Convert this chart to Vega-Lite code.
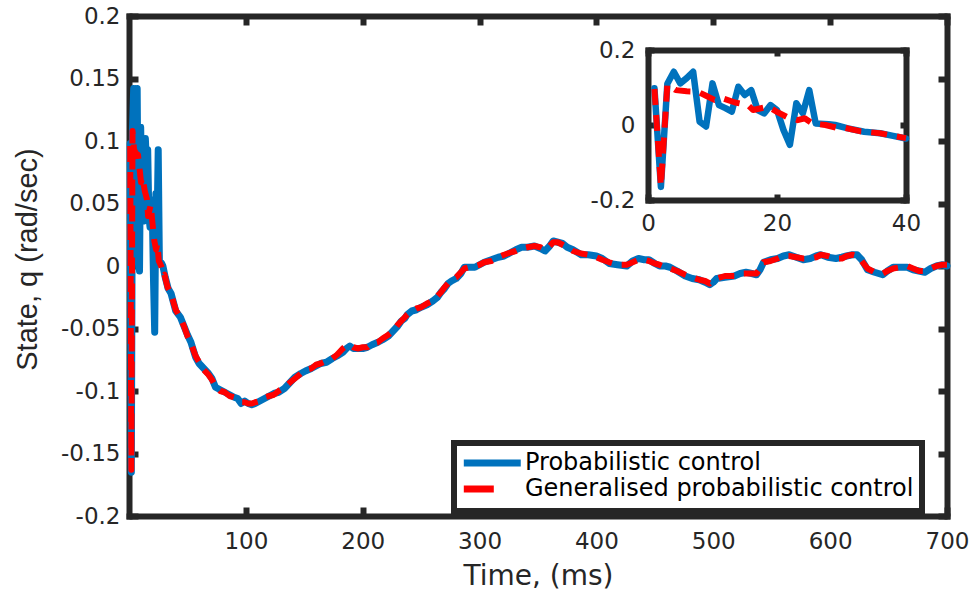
{
  "$schema": "https://vega.github.io/schema/vega-lite/v6.json",
  "width": 818,
  "height": 500,
  "autosize": "none",
  "padding": {"left": 129, "top": 16, "right": 30, "bottom": 74},
  "background": "white",
  "config": {
    "view": {"stroke": null},
    "font": "DejaVu Sans",
    "axis": {
      "grid": false,
      "domainColor": "#262626",
      "domainWidth": 6,
      "domainCap": "square",
      "tickColor": "#262626",
      "tickWidth": 6,
      "labelColor": "#262626",
      "titleColor": "#262626",
      "labelFont": "DejaVu Sans",
      "labelFontSize": 23,
      "titleFont": "DejaVu Sans",
      "titleFontWeight": "normal",
      "labelFlush": false,
      "labelOverlap": false,
      "zindex": 1
    },
    "legend": {
      "orient": "none",
      "legendX": 325,
      "legendY": 427,
      "title": null,
      "symbolType": "M-1.2,0H5.5",
      "symbolSize": 289,
      "symbolStrokeWidth": 7,
      "labelFont": "DejaVu Sans",
      "labelFontSize": 24,
      "labelColor": "#000000",
      "labelOffset": 39,
      "labelLimit": 0,
      "padding": 8,
      "rowPadding": -4,
      "strokeColor": "#262626",
      "fillColor": "white"
    }
  },
  "data": {"name": "d", "values": [
    {"s":"P","t":1,"q":0.098},{"s":"P","t":2,"q":-0.165},{"s":"P","t":3,"q":0.11},{"s":"P","t":4,"q":0.142},{"s":"P","t":5,"q":0.111},{"s":"P","t":6,"q":0.125},{"s":"P","t":7,"q":0.142},{"s":"P","t":8,"q":0.009},{"s":"P","t":9,"q":-0.004},{"s":"P","t":10,"q":0.111},{"s":"P","t":11,"q":0.053},{"s":"P","t":12,"q":0.045},{"s":"P","t":13,"q":0.036},{"s":"P","t":14,"q":0.102},{"s":"P","t":15,"q":0.08},{"s":"P","t":16,"q":0.093},{"s":"P","t":17,"q":0.04},{"s":"P","t":18,"q":0.031},{"s":"P","t":19,"q":0.053},{"s":"P","t":20,"q":0.04},{"s":"P","t":21,"q":-0.013},{"s":"P","t":22,"q":-0.053},{"s":"P","t":23,"q":0.058},{"s":"P","t":24,"q":0.031},{"s":"P","t":25,"q":0.093},{"s":"P","t":26,"q":0.004},{"s":"P","t":28,"q":0.002},{"s":"P","t":29,"q":0.0},{"s":"P","t":31,"q":-0.009},{"s":"P","t":33.5,"q":-0.018},{"s":"P","t":36,"q":-0.022},{"s":"P","t":38,"q":-0.029},{"s":"P","t":40,"q":-0.036},
    {"s":"P","t":44,"q":-0.041},{"s":"P","t":47,"q":-0.048},{"s":"P","t":50,"q":-0.055},{"s":"P","t":53,"q":-0.061},{"s":"P","t":57,"q":-0.073},{"s":"P","t":60,"q":-0.078},{"s":"P","t":64,"q":-0.082},{"s":"P","t":68,"q":-0.086},{"s":"P","t":71,"q":-0.09},{"s":"P","t":74,"q":-0.097},{"s":"P","t":78,"q":-0.099},{"s":"P","t":82,"q":-0.101},{"s":"P","t":86,"q":-0.103},{"s":"P","t":90,"q":-0.105},{"s":"P","t":93,"q":-0.106},{"s":"P","t":96,"q":-0.11},{"s":"P","t":99,"q":-0.108},{"s":"P","t":102,"q":-0.11},{"s":"P","t":105,"q":-0.111},{"s":"P","t":108,"q":-0.11},{"s":"P","t":112,"q":-0.108},{"s":"P","t":116,"q":-0.106},{"s":"P","t":120,"q":-0.104},{"s":"P","t":124,"q":-0.102},{"s":"P","t":128,"q":-0.101},{"s":"P","t":133,"q":-0.098},{"s":"P","t":138,"q":-0.093},{"s":"P","t":142,"q":-0.089},{"s":"P","t":147,"q":-0.086},{"s":"P","t":151,"q":-0.084},{"s":"P","t":156,"q":-0.082},{"s":"P","t":160,"q":-0.08},{"s":"P","t":164,"q":-0.078},{"s":"P","t":169,"q":-0.077},{"s":"P","t":174,"q":-0.074},{"s":"P","t":178,"q":-0.072},{"s":"P","t":183,"q":-0.069},{"s":"P","t":186,"q":-0.066},{"s":"P","t":189,"q":-0.064},{"s":"P","t":192,"q":-0.066},{"s":"P","t":196,"q":-0.066},{"s":"P","t":200,"q":-0.066},{"s":"P","t":204,"q":-0.065},{"s":"P","t":208,"q":-0.063},{"s":"P","t":213,"q":-0.061},{"s":"P","t":217,"q":-0.059},{"s":"P","t":222,"q":-0.056},{"s":"P","t":226,"q":-0.052},{"s":"P","t":230,"q":-0.048},{"s":"P","t":233,"q":-0.044},{"s":"P","t":236,"q":-0.042},{"s":"P","t":238,"q":-0.039},{"s":"P","t":242,"q":-0.036},{"s":"P","t":246,"q":-0.035},{"s":"P","t":250,"q":-0.033},{"s":"P","t":255,"q":-0.031},{"s":"P","t":260,"q":-0.028},{"s":"P","t":264,"q":-0.025},{"s":"P","t":267,"q":-0.021},{"s":"P","t":270,"q":-0.018},{"s":"P","t":273,"q":-0.014},{"s":"P","t":276,"q":-0.012},{"s":"P","t":280,"q":-0.01},{"s":"P","t":284,"q":-0.006},{"s":"P","t":287,"q":-0.001},{"s":"P","t":291,"q":-0.001},{"s":"P","t":296,"q":-0.001},{"s":"P","t":300,"q":0.001},{"s":"P","t":304,"q":0.003},{"s":"P","t":310,"q":0.005},{"s":"P","t":316,"q":0.007},{"s":"P","t":321,"q":0.008},{"s":"P","t":327,"q":0.011},{"s":"P","t":331,"q":0.013},{"s":"P","t":336,"q":0.015},{"s":"P","t":341,"q":0.015},{"s":"P","t":347,"q":0.016},{"s":"P","t":352,"q":0.014},{"s":"P","t":356,"q":0.012},{"s":"P","t":360,"q":0.016},{"s":"P","t":363,"q":0.02},{"s":"P","t":367,"q":0.019},{"s":"P","t":371,"q":0.018},{"s":"P","t":375,"q":0.015},{"s":"P","t":380,"q":0.013},{"s":"P","t":387,"q":0.009},{"s":"P","t":393,"q":0.009},{"s":"P","t":400,"q":0.008},{"s":"P","t":405,"q":0.006},{"s":"P","t":411,"q":0.002},{"s":"P","t":418,"q":0.001},{"s":"P","t":426,"q":0.0},{"s":"P","t":431,"q":0.004},{"s":"P","t":436,"q":0.006},{"s":"P","t":441,"q":0.005},{"s":"P","t":445,"q":0.005},{"s":"P","t":450,"q":0.002},{"s":"P","t":454,"q":0.0},{"s":"P","t":459,"q":0.0},{"s":"P","t":463,"q":-0.001},{"s":"P","t":469,"q":-0.004},{"s":"P","t":476,"q":-0.008},{"s":"P","t":482,"q":-0.01},{"s":"P","t":488,"q":-0.011},{"s":"P","t":493,"q":-0.013},{"s":"P","t":497,"q":-0.015},{"s":"P","t":500,"q":-0.013},{"s":"P","t":503,"q":-0.01},{"s":"P","t":510,"q":-0.009},{"s":"P","t":518,"q":-0.008},{"s":"P","t":523,"q":-0.006},{"s":"P","t":528,"q":-0.005},{"s":"P","t":533,"q":-0.006},{"s":"P","t":537,"q":-0.007},{"s":"P","t":540,"q":-0.003},{"s":"P","t":543,"q":0.003},{"s":"P","t":549,"q":0.005},{"s":"P","t":555,"q":0.006},{"s":"P","t":560,"q":0.008},{"s":"P","t":565,"q":0.009},{"s":"P","t":571,"q":0.007},{"s":"P","t":577,"q":0.005},{"s":"P","t":583,"q":0.006},{"s":"P","t":588,"q":0.008},{"s":"P","t":592,"q":0.009},{"s":"P","t":598,"q":0.007},{"s":"P","t":605,"q":0.006},{"s":"P","t":610,"q":0.007},{"s":"P","t":614,"q":0.008},{"s":"P","t":619,"q":0.009},{"s":"P","t":623,"q":0.009},{"s":"P","t":627,"q":0.005},{"s":"P","t":632,"q":-0.003},{"s":"P","t":638,"q":-0.005},{"s":"P","t":645,"q":-0.007},{"s":"P","t":649,"q":-0.004},{"s":"P","t":654,"q":-0.001},{"s":"P","t":660,"q":-0.001},{"s":"P","t":666,"q":-0.001},{"s":"P","t":671,"q":-0.003},{"s":"P","t":676,"q":-0.004},{"s":"P","t":681,"q":-0.005},{"s":"P","t":686,"q":-0.002},{"s":"P","t":691,"q":0.0},{"s":"P","t":696,"q":0.001},{"s":"P","t":700,"q":0.0},
    {"s":"G","t":1,"q":0.096},{"s":"G","t":2,"q":-0.163},{"s":"G","t":3,"q":0.108},{"s":"G","t":4.3,"q":0.093},{"s":"G","t":6,"q":0.09},{"s":"G","t":7.7,"q":0.089},{"s":"G","t":9,"q":0.078},{"s":"G","t":10.3,"q":0.067},{"s":"G","t":11.6,"q":0.071},{"s":"G","t":13.5,"q":0.06},{"s":"G","t":15.5,"q":0.053},{"s":"G","t":16.3,"q":0.04},{"s":"G","t":18.6,"q":0.049},{"s":"G","t":20,"q":0.035},{"s":"G","t":21.7,"q":0.02},{"s":"G","t":23.2,"q":0.013},{"s":"G","t":24.3,"q":0.018},{"s":"G","t":25.5,"q":0.004},{"s":"G","t":27.5,"q":0.0},{"s":"G","t":29.4,"q":-0.008},{"s":"G","t":30.4,"q":-0.007},{"s":"G","t":33,"q":-0.017},{"s":"G","t":36,"q":-0.022},{"s":"G","t":38,"q":-0.029},{"s":"G","t":40,"q":-0.035},
    {"s":"G","t":44,"q":-0.042},{"s":"G","t":47,"q":-0.048},{"s":"G","t":50,"q":-0.056},{"s":"G","t":53,"q":-0.062},{"s":"G","t":57,"q":-0.072},{"s":"G","t":60,"q":-0.077},{"s":"G","t":64,"q":-0.083},{"s":"G","t":68,"q":-0.087},{"s":"G","t":71,"q":-0.091},{"s":"G","t":74,"q":-0.096},{"s":"G","t":78,"q":-0.1},{"s":"G","t":82,"q":-0.101},{"s":"G","t":86,"q":-0.104},{"s":"G","t":90,"q":-0.105},{"s":"G","t":93,"q":-0.107},{"s":"G","t":96,"q":-0.109},{"s":"G","t":99,"q":-0.109},{"s":"G","t":102,"q":-0.11},{"s":"G","t":105,"q":-0.11},{"s":"G","t":108,"q":-0.109},{"s":"G","t":112,"q":-0.108},{"s":"G","t":116,"q":-0.105},{"s":"G","t":120,"q":-0.104},{"s":"G","t":124,"q":-0.103},{"s":"G","t":128,"q":-0.1},{"s":"G","t":133,"q":-0.097},{"s":"G","t":138,"q":-0.093},{"s":"G","t":142,"q":-0.09},{"s":"G","t":147,"q":-0.086},{"s":"G","t":151,"q":-0.083},{"s":"G","t":156,"q":-0.082},{"s":"G","t":160,"q":-0.079},{"s":"G","t":164,"q":-0.078},{"s":"G","t":169,"q":-0.076},{"s":"G","t":174,"q":-0.074},{"s":"G","t":178,"q":-0.071},{"s":"G","t":183,"q":-0.066},{"s":"G","t":186,"q":-0.064},{"s":"G","t":189,"q":-0.063},{"s":"G","t":192,"q":-0.065},{"s":"G","t":196,"q":-0.066},{"s":"G","t":200,"q":-0.065},{"s":"G","t":204,"q":-0.065},{"s":"G","t":208,"q":-0.062},{"s":"G","t":213,"q":-0.061},{"s":"G","t":217,"q":-0.058},{"s":"G","t":222,"q":-0.055},{"s":"G","t":226,"q":-0.052},{"s":"G","t":230,"q":-0.047},{"s":"G","t":233,"q":-0.044},{"s":"G","t":236,"q":-0.041},{"s":"G","t":238,"q":-0.039},{"s":"G","t":242,"q":-0.036},{"s":"G","t":246,"q":-0.034},{"s":"G","t":250,"q":-0.033},{"s":"G","t":255,"q":-0.03},{"s":"G","t":260,"q":-0.028},{"s":"G","t":264,"q":-0.024},{"s":"G","t":267,"q":-0.021},{"s":"G","t":270,"q":-0.017},{"s":"G","t":273,"q":-0.014},{"s":"G","t":276,"q":-0.011},{"s":"G","t":280,"q":-0.009},{"s":"G","t":284,"q":-0.005},{"s":"G","t":287,"q":-0.002},{"s":"G","t":291,"q":-0.001},{"s":"G","t":296,"q":0.0},{"s":"G","t":300,"q":0.001},{"s":"G","t":304,"q":0.003},{"s":"G","t":310,"q":0.004},{"s":"G","t":316,"q":0.007},{"s":"G","t":321,"q":0.009},{"s":"G","t":327,"q":0.011},{"s":"G","t":331,"q":0.012},{"s":"G","t":336,"q":0.014},{"s":"G","t":341,"q":0.015},{"s":"G","t":347,"q":0.016},{"s":"G","t":352,"q":0.015},{"s":"G","t":356,"q":0.013},{"s":"G","t":360,"q":0.016},{"s":"G","t":363,"q":0.019},{"s":"G","t":367,"q":0.019},{"s":"G","t":371,"q":0.017},{"s":"G","t":375,"q":0.015},{"s":"G","t":380,"q":0.012},{"s":"G","t":387,"q":0.01},{"s":"G","t":393,"q":0.009},{"s":"G","t":400,"q":0.007},{"s":"G","t":405,"q":0.005},{"s":"G","t":411,"q":0.003},{"s":"G","t":418,"q":0.001},{"s":"G","t":426,"q":0.001},{"s":"G","t":431,"q":0.003},{"s":"G","t":436,"q":0.005},{"s":"G","t":441,"q":0.005},{"s":"G","t":445,"q":0.004},{"s":"G","t":450,"q":0.002},{"s":"G","t":454,"q":0.001},{"s":"G","t":459,"q":-0.001},{"s":"G","t":463,"q":-0.002},{"s":"G","t":469,"q":-0.004},{"s":"G","t":476,"q":-0.007},{"s":"G","t":482,"q":-0.009},{"s":"G","t":488,"q":-0.011},{"s":"G","t":493,"q":-0.012},{"s":"G","t":497,"q":-0.014},{"s":"G","t":500,"q":-0.012},{"s":"G","t":503,"q":-0.01},{"s":"G","t":510,"q":-0.008},{"s":"G","t":518,"q":-0.008},{"s":"G","t":523,"q":-0.006},{"s":"G","t":528,"q":-0.006},{"s":"G","t":533,"q":-0.006},{"s":"G","t":537,"q":-0.006},{"s":"G","t":540,"q":-0.002},{"s":"G","t":543,"q":0.003},{"s":"G","t":549,"q":0.004},{"s":"G","t":555,"q":0.006},{"s":"G","t":560,"q":0.008},{"s":"G","t":565,"q":0.008},{"s":"G","t":571,"q":0.007},{"s":"G","t":577,"q":0.006},{"s":"G","t":583,"q":0.006},{"s":"G","t":588,"q":0.007},{"s":"G","t":592,"q":0.009},{"s":"G","t":598,"q":0.008},{"s":"G","t":605,"q":0.006},{"s":"G","t":610,"q":0.006},{"s":"G","t":614,"q":0.008},{"s":"G","t":619,"q":0.009},{"s":"G","t":623,"q":0.008},{"s":"G","t":627,"q":0.004},{"s":"G","t":632,"q":-0.002},{"s":"G","t":638,"q":-0.005},{"s":"G","t":645,"q":-0.006},{"s":"G","t":649,"q":-0.004},{"s":"G","t":654,"q":-0.002},{"s":"G","t":660,"q":-0.001},{"s":"G","t":666,"q":0.0},{"s":"G","t":671,"q":-0.002},{"s":"G","t":676,"q":-0.004},{"s":"G","t":681,"q":-0.004},{"s":"G","t":686,"q":-0.002},{"s":"G","t":691,"q":0.0},{"s":"G","t":696,"q":0.001},{"s":"G","t":700,"q":0.001}
  ]},
  "resolve": {
    "scale": {"x": "independent", "y": "independent"},
    "axis": {"x": "independent", "y": "independent"}
  },
  "layer": [
    {
      "transform": [{"filter": "datum.s == 'P'"}],
      "mark": {"type": "line", "strokeWidth": 7, "strokeCap": "round", "strokeJoin": "round"},
      "encoding": {
        "x": {"field": "t", "type": "quantitative", "scale": {"domain": [0, 700]},
          "axis": {"orient": "bottom", "values": [100, 200, 300, 400, 500, 600, 700], "tickSize": -9, "labelPadding": 23,
            "title": "Time, (ms)", "titleFontSize": 28, "titleX": 409, "titleY": 60, "titleAlign": "center", "titleBaseline": "middle"}},
        "y": {"field": "q", "type": "quantitative", "scale": {"domain": [-0.2, 0.2]},
          "axis": {"orient": "left", "values": [-0.2, -0.15, -0.1, -0.05, 0, 0.05, 0.1, 0.15, 0.2], "labelExpr": "'' + datum.value", "tickSize": -9, "labelPadding": 18,
            "title": "State, q (rad/sec)", "titleFont": "Liberation Sans", "titleFontSize": 29, "titleAngle": 270, "titleX": -102, "titleY": 243, "titleAlign": "center", "titleBaseline": "middle"}},
        "color": {"field": "s", "type": "nominal", "scale": {"domain": ["P", "G"], "range": ["#0072BD", "#FF0000"]},
          "legend": {"labelExpr": "datum.label == 'P' ? 'Probabilistic control' : 'Generalised probabilistic control'",
            "encode": {"legend": {"update": {"strokeWidth": {"value": 6}}},
                       "symbols": {"update": {"strokeDash": {"signal": "datum.value == 'G' ? [30, 40] : [1, 0]"}}}}}}
      }
    },
    {
      "transform": [{"filter": "datum.s == 'G'"}],
      "mark": {"type": "line", "strokeWidth": 6, "strokeJoin": "round", "strokeDash": [16, 10]},
      "encoding": {
        "x": {"field": "t", "type": "quantitative", "scale": {"domain": [0, 700]},
          "axis": {"orient": "top", "values": [100, 200, 300, 400, 500, 600, 700], "tickSize": -9, "labels": false, "title": null}},
        "y": {"field": "q", "type": "quantitative", "scale": {"domain": [-0.2, 0.2]},
          "axis": {"orient": "right", "values": [-0.2, -0.15, -0.1, -0.05, 0, 0.05, 0.1, 0.15, 0.2], "tickSize": -9, "labels": false, "title": null}},
        "color": {"field": "s", "type": "nominal", "scale": {"domain": ["P", "G"], "range": ["#0072BD", "#FF0000"]}}
      }
    },
    {
      "transform": [{"filter": "datum.s == 'P' && datum.t <= 40"}],
      "mark": {"type": "line", "strokeWidth": 6.5, "strokeCap": "round", "strokeJoin": "round"},
      "encoding": {
        "x": {"field": "t", "type": "quantitative", "scale": {"domain": [0, 40], "range": [519, 777]},
          "axis": {"orient": "bottom", "offset": -316, "values": [0, 20, 40], "tickSize": -6, "labelPadding": 18, "title": null}},
        "y": {"field": "q", "type": "quantitative", "scale": {"domain": [-0.2, 0.2], "range": [184, 34]},
          "axis": {"orient": "left", "offset": -519, "values": [-0.2, 0, 0.2], "labelExpr": "'' + datum.value", "tickSize": -6, "labelPadding": 19, "title": null}},
        "color": {"field": "s", "type": "nominal", "scale": {"domain": ["P", "G"], "range": ["#0072BD", "#FF0000"]}}
      }
    },
    {
      "transform": [{"filter": "datum.s == 'G' && datum.t <= 40"}],
      "mark": {"type": "line", "strokeWidth": 6, "strokeJoin": "round", "strokeDash": [16, 10]},
      "encoding": {
        "x": {"field": "t", "type": "quantitative", "scale": {"domain": [0, 40], "range": [519, 777]},
          "axis": {"orient": "top", "offset": -34, "values": [0, 20, 40], "tickSize": -6, "labels": false, "title": null}},
        "y": {"field": "q", "type": "quantitative", "scale": {"domain": [-0.2, 0.2], "range": [184, 34]},
          "axis": {"orient": "right", "offset": -41, "values": [-0.2, 0, 0.2], "tickSize": -6, "labels": false, "title": null}},
        "color": {"field": "s", "type": "nominal", "scale": {"domain": ["P", "G"], "range": ["#0072BD", "#FF0000"]}}
      }
    }
  ]
}
